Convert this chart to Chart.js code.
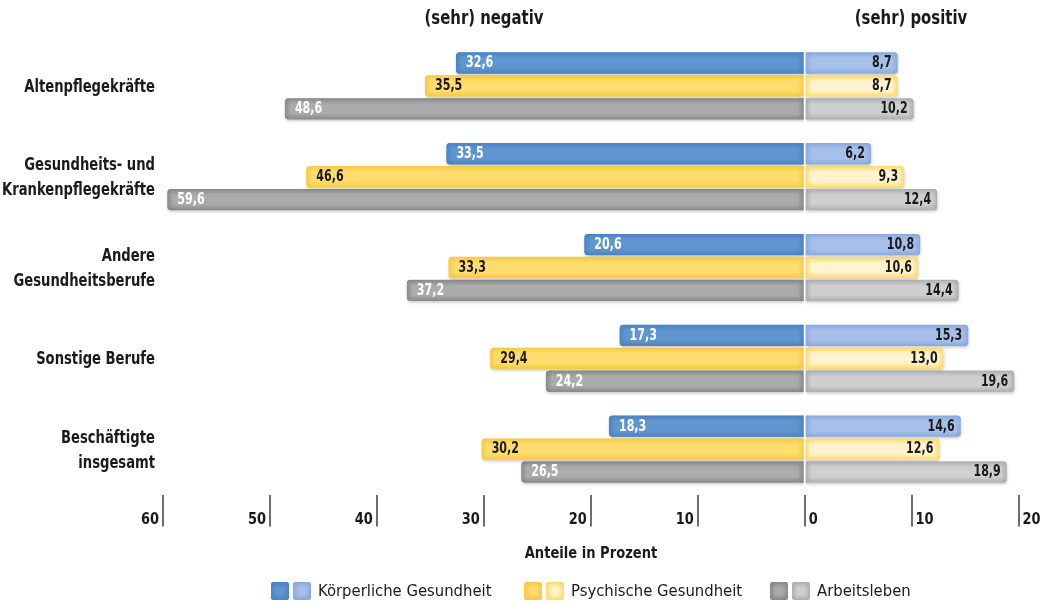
<!DOCTYPE html>
<html lang="de">
<head>
<meta charset="utf-8">
<script src="https://cdn.jsdelivr.net/npm/chart.js@4.4.1/dist/chart.umd.min.js"></script>
<style>
html,body{margin:0;padding:0;background:#fff;}
#wrap{width:1050px;height:603px;position:relative;}
</style>
</head>
<body>
<div id="wrap"><canvas id="c" width="1050" height="603"></canvas></div>
<script>
// Berufsgruppen (y-Achse)
const categories = [
  ['Altenpflegekräfte'],
  ['Gesundheits- und', 'Krankenpflegekräfte'],
  ['Andere', 'Gesundheitsberufe'],
  ['Sonstige Berufe'],
  ['Beschäftigte', 'insgesamt']
];

// Anteile in Prozent: (sehr) negativ / (sehr) positiv
const koerperNeg = [32.6, 33.5, 20.6, 17.3, 18.3];
const koerperPos = [8.7, 6.2, 10.8, 15.3, 14.6];
const psychNeg   = [35.5, 46.6, 33.3, 29.4, 30.2];
const psychPos   = [8.7, 9.3, 10.6, 13.0, 12.6];
const arbeitNeg  = [48.6, 59.6, 37.2, 24.2, 26.5];
const arbeitPos  = [10.2, 12.4, 14.4, 19.6, 18.9];

const seriesNames = ['Körperliche Gesundheit', 'Psychische Gesundheit', 'Arbeitsleben'];
const axisMin = -60, axisMax = 20, axisStep = 10;
const sideTitles = ['(sehr) negativ', '(sehr) positiv'];
const axisTitle = 'Anteile in Prozent';

const FONT = '"DejaVu Sans Condensed", "Liberation Sans Narrow", "Liberation Sans", sans-serif';

// fill = Grundfarbe, edge = Randschattierung
const styles = {
  k: { neg: { fill: '#6096cf', edge: '#4a80c0', label: '#ffffff' },
       pos: { fill: '#a7c0ea', edge: '#86a7dc', label: '#1a1a1a' } },
  p: { neg: { fill: '#ffdc6e', edge: '#f6c83e', label: '#1a1a1a' },
       pos: { fill: '#fff3d0', edge: '#fcd860', label: '#1a1a1a' } },
  a: { neg: { fill: '#ababab', edge: '#858585', label: '#ffffff' },
       pos: { fill: '#cfcfcf', edge: '#ababab', label: '#1a1a1a' } }
};

function rgba(hex, a) {
  const n = parseInt(hex.slice(1), 16);
  return `rgba(${(n >> 16) & 255},${(n >> 8) & 255},${n & 255},${a})`;
}

// schmal gesetzter Text (horizontal gestaucht)
function narrowText(ctx, text, x, y, align, sx) {
  ctx.save();
  ctx.translate(x, y);
  ctx.scale(sx, 1);
  ctx.textAlign = align;
  ctx.fillText(text, 0, 0);
  ctx.restore();
}

function roundPath(ctx, x, y, w, h, r) {
  ctx.beginPath();
  ctx.moveTo(x + r.tl, y);
  ctx.lineTo(x + w - r.tr, y);
  ctx.arcTo(x + w, y, x + w, y + r.tr, r.tr);
  ctx.lineTo(x + w, y + h - r.br);
  ctx.arcTo(x + w, y + h, x + w - r.br, y + h, r.br);
  ctx.lineTo(x + r.bl, y + h);
  ctx.arcTo(x, y + h, x, y + h - r.bl, r.bl);
  ctx.lineTo(x, y + r.tl);
  ctx.arcTo(x, y, x + r.tl, y, r.tl);
  ctx.closePath();
}

// Innere Schattierung an allen Kanten eines Balkens
function shadeBox(ctx, x, y, w, h, r, st) {
  const g = Math.min(6, h / 2.5);
  ctx.save();
  roundPath(ctx, x, y, w, h, r);
  ctx.clip();
  let gr = ctx.createLinearGradient(0, y, 0, y + g);
  gr.addColorStop(0, rgba(st.edge, 0.95)); gr.addColorStop(1, rgba(st.edge, 0));
  ctx.fillStyle = gr; ctx.fillRect(x, y, w, g);
  gr = ctx.createLinearGradient(0, y + h, 0, y + h - g);
  gr.addColorStop(0, rgba(st.edge, 0.95)); gr.addColorStop(1, rgba(st.edge, 0));
  ctx.fillStyle = gr; ctx.fillRect(x, y + h - g, w, g);
  gr = ctx.createLinearGradient(x, 0, x + g, 0);
  gr.addColorStop(0, rgba(st.edge, 0.9)); gr.addColorStop(1, rgba(st.edge, 0));
  ctx.fillStyle = gr; ctx.fillRect(x, y, g, h);
  gr = ctx.createLinearGradient(x + w, 0, x + w - g, 0);
  gr.addColorStop(0, rgba(st.edge, 0.9)); gr.addColorStop(1, rgba(st.edge, 0));
  ctx.fillStyle = gr; ctx.fillRect(x + w - g, y, g, h);
  ctx.restore();
}

const fmt = v => Math.abs(v).toFixed(1).replace('.', ',');

function makeSet(values, key, side, stack) {
  const st = styles[key][side];
  const sign = side === 'neg' ? -1 : 1;
  return {
    label: key + side,
    data: values.map(v => sign * v),
    stack: stack,
    backgroundColor: st.fill,
    borderColor: st.edge,
    borderWidth: 0,
    borderSkipped: false,
    borderRadius: side === 'neg'
      ? { topLeft: 4, bottomLeft: 4, topRight: 0, bottomRight: 0 }
      : { topLeft: 0, bottomLeft: 0, topRight: 4, bottomRight: 4 },
    categoryPercentage: 0.758,
    barPercentage: 0.93,
    _key: key, _side: side
  };
}

const datasets = [
  makeSet(koerperNeg, 'k', 'neg', 'k'),
  makeSet(koerperPos, 'k', 'pos', 'k'),
  makeSet(psychNeg, 'p', 'neg', 'p'),
  makeSet(psychPos, 'p', 'pos', 'p'),
  makeSet(arbeitNeg, 'a', 'neg', 'a'),
  makeSet(arbeitPos, 'a', 'pos', 'a')
];

const barDecor = {
  id: 'barDecor',
  beforeDatasetsDraw(chart) {
    const ctx = chart.ctx;
    ctx.save();
    ctx.shadowColor = 'rgba(0,0,0,0.22)';
    ctx.shadowBlur = 3;
    ctx.shadowOffsetY = 1.5;
    ctx.shadowOffsetX = 0.5;
  },
  afterDatasetsDraw(chart) {
    const ctx = chart.ctx;
    ctx.restore();
    chart.data.datasets.forEach((ds, di) => {
      const meta = chart.getDatasetMeta(di);
      const st = styles[ds._key][ds._side];
      meta.data.forEach((el, i) => {
        const p = el.getProps(['x', 'y', 'base', 'height'], true);
        const left = Math.min(p.x, p.base), right = Math.max(p.x, p.base);
        const top = p.y - p.height / 2;
        const r = ds._side === 'neg' ? { tl: 4, bl: 4, tr: 0, br: 0 } : { tl: 0, bl: 0, tr: 4, br: 4 };
        shadeBox(ctx, left, top, right - left, p.height, r, st);
        // Wert
        ctx.save();
        ctx.font = `bold 15px ${FONT}`;
        ctx.fillStyle = st.label;
        ctx.textBaseline = 'middle';
        if (ds._side === 'neg') {
          narrowText(ctx, fmt(ds.data[i]), left + 10, p.y + 0.5, 'left', 0.82);
        } else {
          narrowText(ctx, fmt(ds.data[i]), right - 6, p.y + 0.5, 'right', 0.82);
        }
        ctx.restore();
      });
    });
    // feine Trennlinie bei 0
    const x0 = chart.scales.x.getPixelForValue(0);
    ctx.save();
    ctx.strokeStyle = '#ffffff';
    ctx.lineWidth = 1.2;
    ctx.beginPath();
    ctx.moveTo(x0, chart.chartArea.top);
    ctx.lineTo(x0, chart.chartArea.bottom - 8);
    ctx.stroke();
    ctx.restore();
  }
};

const textDecor = {
  id: 'textDecor',
  afterDraw(chart) {
    const ctx = chart.ctx;
    const xs = chart.scales.x;
    const ys = chart.scales.y;
    ctx.save();
    ctx.fillStyle = '#1a1a1a';
    ctx.textBaseline = 'middle';
    // Berufsgruppen
    ctx.font = `bold 17px ${FONT}`;
    categories.forEach((lines, i) => {
      const cy = ys.getPixelForValue(i) + 1.5;
      const lh = 25;
      lines.forEach((ln, j) => {
        const yy = cy + (j - (lines.length - 1) / 2) * lh;
        narrowText(ctx, ln, 155, yy, 'right', 0.86);
      });
    });
    // Achsenbeschriftung (Beträge)
    ctx.font = `bold 16px ${FONT}`;
    xs.ticks.forEach(t => {
      const px = xs.getPixelForValue(t.value);
      const s = String(Math.abs(t.value));
      if (t.value < 0) narrowText(ctx, s, px - 4, 520, 'right', 0.9);
      else narrowText(ctx, s, px + 4, 520, 'left', 0.9);
    });
    // Überschriften
    ctx.font = `bold 19px ${FONT}`;
    narrowText(ctx, sideTitles[0], 484, 19, 'center', 0.87);
    narrowText(ctx, sideTitles[1], 911, 19, 'center', 0.87);
    // Achsentitel
    ctx.font = `bold 16px ${FONT}`;
    narrowText(ctx, axisTitle, 591, 554, 'center', 0.91);
    // Legende
    const items = [
      { key: 'k', x: 271 },
      { key: 'p', x: 524 },
      { key: 'a', x: 770 }
    ];
    ctx.font = `16.5px ${FONT}`;
    items.forEach((it, idx) => {
      const r = { tl: 3, tr: 3, br: 3, bl: 3 };
      ['neg', 'pos'].forEach((side, j) => {
        const st = styles[it.key][side];
        const bx = it.x + j * 22, by = 582, s = 18;
        roundPath(ctx, bx, by, s, s, r);
        ctx.fillStyle = st.fill;
        ctx.fill();
        shadeBox(ctx, bx, by, s, s, r, st);
      });
      ctx.fillStyle = '#1a1a1a';
      narrowText(ctx, seriesNames[idx], it.x + 47, 592, 'left', 1);
    });
    ctx.restore();
  }
};

new Chart(document.getElementById('c'), {
  type: 'bar',
  data: { labels: categories, datasets: datasets },
  options: {
    indexAxis: 'y',
    responsive: false,
    animation: false,
    devicePixelRatio: 1,
    layout: { padding: { top: 40.5, right: 31.5, bottom: 68.5, left: 0 } },
    plugins: { legend: { display: false }, tooltip: { enabled: false }, title: { display: false } },
    scales: {
      x: {
        stacked: true,
        min: axisMin, max: axisMax,
        ticks: { stepSize: axisStep, display: false },
        grid: { drawOnChartArea: false, drawTicks: true, tickLength: 32, color: '#6d6d6d', lineWidth: 2 },
        border: { display: false },
        afterFit(scale) { scale.height = 40; }
      },
      y: {
        grid: { display: false, drawTicks: false },
        border: { display: false },
        ticks: { display: false },
        afterFit(scale) { scale.width = 163; }
      }
    }
  },
  plugins: [barDecor, textDecor]
});
</script>
</body>
</html>
